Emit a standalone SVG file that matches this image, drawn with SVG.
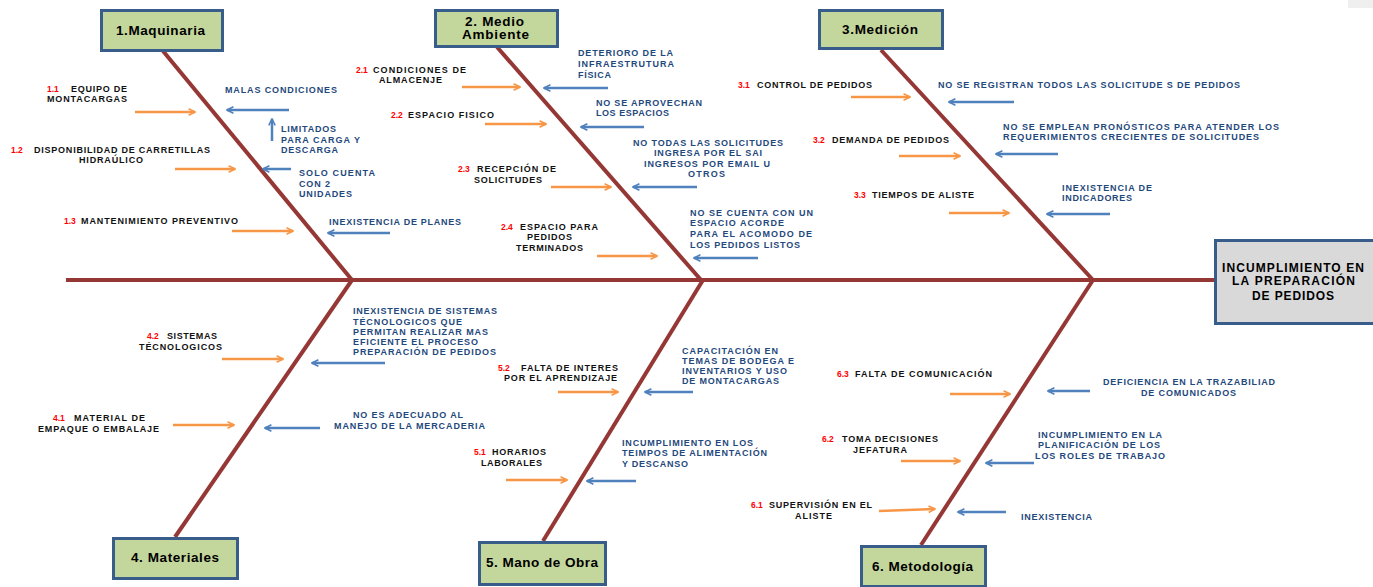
<svg xmlns="http://www.w3.org/2000/svg" width="1373" height="587" viewBox="0 0 1373 587">
<defs>
<style>
text{font-family:"Liberation Sans",Arial,sans-serif;font-size:9px;fill:#111;font-weight:bold}
.num{fill:#ff0000;font-size:8.5px}
.blu{fill:#1f497d}
.box{fill:#c3d69b;stroke:#385d8a;stroke-width:3}
.head{fill:#d9d9d9;stroke:#385d8a;stroke-width:3}
.ttl{font-size:13.5px;fill:#000}
.htl{font-size:12px;fill:#000}
.bone{stroke:#953735;stroke-width:4;fill:none}
.oa{stroke:#f79646;stroke-width:2.5;fill:none;marker-end:url(#ao)}
.ba{stroke:#4f81bd;stroke-width:2.5;fill:none;marker-end:url(#ab)}
</style>
<marker id="ao" viewBox="0 0 10 10" refX="9" refY="5" markerWidth="8" markerHeight="9" markerUnits="userSpaceOnUse" orient="auto"><path d="M1,1 L9,5 L1,9" fill="none" stroke="#f79646" stroke-width="2"/></marker>
<marker id="ab" viewBox="0 0 10 10" refX="9" refY="5" markerWidth="8" markerHeight="9" markerUnits="userSpaceOnUse" orient="auto"><path d="M1,1 L9,5 L1,9" fill="none" stroke="#4f81bd" stroke-width="2"/></marker>
</defs>
<rect x="0" y="0" width="1373" height="587" fill="#ffffff"/>
<rect x="1348" y="0" width="25" height="8" fill="#efefef"/>

<g id="connectors">
<path class="bone" d="M66,280 L1214,280"/>
<path class="bone" d="M163,51 L352,280"/>
<path class="bone" d="M497,47 L701,280"/>
<path class="bone" d="M881,50 L1093,280"/>
<path class="bone" d="M352,280 L175,537"/>
<path class="bone" d="M703,280 L543,541"/>
<path class="bone" d="M1093,280 L921,545"/>
<g id="cause-arrows">
<path class="oa" d="M135,112 L195,112"/>
<path class="oa" d="M175,169 L235,169"/>
<path class="oa" d="M232,231 L293,231"/>
<path class="oa" d="M222,359 L283,359"/>
<path class="oa" d="M173,425 L234,425"/>
<path class="oa" d="M462,87 L520,87"/>
<path class="oa" d="M485,124 L546,124"/>
<path class="oa" d="M551,187 L611,187"/>
<path class="oa" d="M597,256 L657,256"/>
<path class="oa" d="M851,97 L910,97"/>
<path class="oa" d="M899,156 L960,156"/>
<path class="oa" d="M949,213 L1009,213"/>
<path class="oa" d="M558,392 L618,392"/>
<path class="oa" d="M506,480 L567,480"/>
<path class="oa" d="M950,394 L1010,394"/>
<path class="oa" d="M901,461 L960,461"/>
<path class="oa" d="M879,511 L935,509"/>
<path class="ba" d="M289,110 L227,110"/>
<path class="ba" d="M291,169 L263,169"/>
<path class="ba" d="M390,233 L328,233"/>
<path class="ba" d="M272,141 L272,119"/>
<path class="ba" d="M385,363 L312,363"/>
<path class="ba" d="M320,428 L265,428"/>
<path class="ba" d="M608,88 L544,88"/>
<path class="ba" d="M644,127 L581,127"/>
<path class="ba" d="M697,187 L633,187"/>
<path class="ba" d="M758,258 L694,258"/>
<path class="ba" d="M1014,102 L949,102"/>
<path class="ba" d="M1058,154 L996,154"/>
<path class="ba" d="M1110,214 L1047,214"/>
<path class="ba" d="M693,392 L645,392"/>
<path class="ba" d="M636,481 L587,481"/>
<path class="ba" d="M1090,391 L1048,391"/>
<path class="ba" d="M1034,463 L986,463"/>
<path class="ba" d="M1006,512 L958,512"/>
</g>
</g>

<g id="effect">
<rect class="head" x="1215.5" y="240.5" width="160" height="83"/>
<text class="htl" x="1222" y="272" textLength="142" lengthAdjust="spacing">INCUMPLIMIENTO EN</text>
<text class="htl" x="1232" y="285" textLength="123" lengthAdjust="spacing">LA PREPARACIÓN</text>
<text class="htl" x="1252" y="300" textLength="82" lengthAdjust="spacing">DE PEDIDOS</text>
</g>

<g id="cat1">
<rect class="box" x="101.5" y="10.5" width="121" height="40"/>
<text class="ttl" x="116" y="35" textLength="89" lengthAdjust="spacing">1.Maquinaria</text>
<text class="num" x="47" y="92">1.1</text>
<text x="71" y="92" textLength="56" lengthAdjust="spacing">EQUIPO DE</text>
<text x="47" y="102" textLength="80" lengthAdjust="spacing">MONTACARGAS</text>
<text class="num" x="11" y="153">1.2</text>
<text x="34" y="153" textLength="176" lengthAdjust="spacing">DISPONIBILIDAD DE CARRETILLAS</text>
<text x="79" y="163" textLength="64" lengthAdjust="spacing">HIDRAÚLICO</text>
<text class="num" x="64" y="224">1.3</text>
<text x="81" y="224" textLength="157" lengthAdjust="spacing">MANTENIMIENTO PREVENTIVO</text>
<text class="blu" x="225" y="93" textLength="112" lengthAdjust="spacing">MALAS CONDICIONES</text>
<text class="blu" x="281" y="132" textLength="55" lengthAdjust="spacing">LIMITADOS</text>
<text class="blu" x="281" y="143" textLength="79" lengthAdjust="spacing">PARA CARGA Y</text>
<text class="blu" x="281" y="153" textLength="57" lengthAdjust="spacing">DESCARGA</text>
<text class="blu" x="299" y="176" textLength="76" lengthAdjust="spacing">SOLO CUENTA</text>
<text class="blu" x="299" y="187" textLength="31" lengthAdjust="spacing">CON 2</text>
<text class="blu" x="299" y="197" textLength="53" lengthAdjust="spacing">UNIDADES</text>
<text class="blu" x="329" y="225" textLength="132" lengthAdjust="spacing">INEXISTENCIA DE PLANES</text>
</g>

<g id="cat2">
<rect class="box" x="435.5" y="10.5" width="122" height="36"/>
<text class="ttl" x="465" y="26" textLength="59" lengthAdjust="spacing">2. Medio</text>
<text class="ttl" x="462" y="39" textLength="67" lengthAdjust="spacing">Ambiente</text>
<text class="num" x="356" y="73">2.1</text>
<text x="373" y="73" textLength="93" lengthAdjust="spacing">CONDICIONES DE</text>
<text x="379" y="83" textLength="63" lengthAdjust="spacing">ALMACENJE</text>
<text class="num" x="391" y="118">2.2</text>
<text x="408" y="118" textLength="86" lengthAdjust="spacing">ESPACIO FISICO</text>
<text class="blu" x="578" y="56" textLength="95" lengthAdjust="spacing">DETERIORO DE LA</text>
<text class="blu" x="578" y="67" textLength="96" lengthAdjust="spacing">INFRAESTRUTURA</text>
<text class="blu" x="578" y="78" textLength="33" lengthAdjust="spacing">FÍSICA</text>
<text class="blu" x="596" y="106" textLength="106" lengthAdjust="spacing">NO SE APROVECHAN</text>
<text class="blu" x="596" y="116" textLength="73" lengthAdjust="spacing">LOS ESPACIOS</text>
<text class="blu" x="633" y="146" textLength="150" lengthAdjust="spacing">NO TODAS LAS SOLICITUDES</text>
<text class="blu" x="654" y="156" textLength="108" lengthAdjust="spacing">INGRESA POR EL SAI</text>
<text class="blu" x="644" y="167" textLength="126" lengthAdjust="spacing">INGRESOS POR EMAIL U</text>
<text class="blu" x="688" y="177" textLength="37" lengthAdjust="spacing">OTROS</text>
<text class="num" x="458" y="172">2.3</text>
<text x="477" y="172" textLength="79" lengthAdjust="spacing">RECEPCIÓN DE</text>
<text x="474" y="183" textLength="68" lengthAdjust="spacing">SOLICITUDES</text>
<text class="num" x="501" y="230">2.4</text>
<text x="520" y="230" textLength="78" lengthAdjust="spacing">ESPACIO PARA</text>
<text x="527" y="240" textLength="45" lengthAdjust="spacing">PEDIDOS</text>
<text x="516" y="251" textLength="67" lengthAdjust="spacing">TERMINADOS</text>
<text class="blu" x="690" y="216" textLength="123" lengthAdjust="spacing">NO SE CUENTA CON UN</text>
<text class="blu" x="690" y="226" textLength="94" lengthAdjust="spacing">ESPACIO ACORDE</text>
<text class="blu" x="690" y="237" textLength="122" lengthAdjust="spacing">PARA EL ACOMODO DE</text>
<text class="blu" x="690" y="248" textLength="110" lengthAdjust="spacing">LOS PEDIDOS LISTOS</text>
</g>

<g id="cat3">
<rect class="box" x="819.5" y="10.5" width="123" height="38"/>
<text class="ttl" x="842" y="34" textLength="76" lengthAdjust="spacing">3.Medición</text>
<text class="num" x="738" y="88">3.1</text>
<text x="757" y="88" textLength="115" lengthAdjust="spacing">CONTROL DE PEDIDOS</text>
<text class="blu" x="938" y="88" textLength="302" lengthAdjust="spacing">NO SE REGISTRAN TODOS LAS SOLICITUDE S DE PEDIDOS</text>
<text class="num" x="813" y="143">3.2</text>
<text x="832" y="143" textLength="117" lengthAdjust="spacing">DEMANDA DE PEDIDOS</text>
<text class="blu" x="1003" y="130" textLength="276" lengthAdjust="spacing">NO SE EMPLEAN PRONÓSTICOS PARA ATENDER LOS</text>
<text class="blu" x="1003" y="140" textLength="256" lengthAdjust="spacing">REQUERIMIENTOS CRECIENTES DE SOLICITUDES</text>
<text class="num" x="854" y="198">3.3</text>
<text x="872" y="198" textLength="102" lengthAdjust="spacing">TIEMPOS DE ALISTE</text>
<text class="blu" x="1062" y="191" textLength="90" lengthAdjust="spacing">INEXISTENCIA DE</text>
<text class="blu" x="1062" y="201" textLength="70" lengthAdjust="spacing">INDICADORES</text>
</g>

<g id="cat4">
<rect class="box" x="113.5" y="538.5" width="124" height="40"/>
<text class="ttl" x="131" y="562" textLength="88" lengthAdjust="spacing">4. Materiales</text>
<text class="num" x="147" y="339">4.2</text>
<text x="167" y="339" textLength="50" lengthAdjust="spacing">SISTEMAS</text>
<text x="139" y="350" textLength="83" lengthAdjust="spacing">TÉCNOLOGICOS</text>
<text class="blu" x="353" y="314" textLength="144" lengthAdjust="spacing">INEXISTENCIA DE SISTEMAS</text>
<text class="blu" x="353" y="325" textLength="109" lengthAdjust="spacing">TÉCNOLOGICOS QUE</text>
<text class="blu" x="353" y="335" textLength="135" lengthAdjust="spacing">PERMITAN REALIZAR MAS</text>
<text class="blu" x="353" y="345" textLength="125" lengthAdjust="spacing">EFICIENTE EL PROCESO</text>
<text class="blu" x="353" y="355" textLength="143" lengthAdjust="spacing">PREPARACIÓN DE PEDIDOS</text>
<text class="num" x="53" y="421">4.1</text>
<text x="74" y="421" textLength="71" lengthAdjust="spacing">MATERIAL DE</text>
<text x="38" y="432" textLength="121" lengthAdjust="spacing">EMPAQUE O EMBALAJE</text>
<text class="blu" x="353" y="418" textLength="110" lengthAdjust="spacing">NO ES ADECUADO AL</text>
<text class="blu" x="334" y="429" textLength="151" lengthAdjust="spacing">MANEJO DE LA MERCADERIA</text>
</g>

<g id="cat5">
<rect class="box" x="479.5" y="542.5" width="126" height="42"/>
<text class="ttl" x="486" y="567" textLength="112" lengthAdjust="spacing">5. Mano de Obra</text>
<text class="num" x="498" y="371">5.2</text>
<text x="521" y="371" textLength="97" lengthAdjust="spacing">FALTA DE INTERES</text>
<text x="504" y="381" textLength="113" lengthAdjust="spacing">POR EL APRENDIZAJE</text>
<text class="blu" x="682" y="354" textLength="96" lengthAdjust="spacing">CAPACITACIÓN EN</text>
<text class="blu" x="682" y="364" textLength="112" lengthAdjust="spacing">TEMAS DE BODEGA E</text>
<text class="blu" x="682" y="374" textLength="105" lengthAdjust="spacing">INVENTARIOS Y USO</text>
<text class="blu" x="682" y="384" textLength="97" lengthAdjust="spacing">DE MONTACARGAS</text>
<text class="num" x="474" y="455">5.1</text>
<text x="492" y="455" textLength="54" lengthAdjust="spacing">HORARIOS</text>
<text x="481" y="466" textLength="61" lengthAdjust="spacing">LABORALES</text>
<text class="blu" x="622" y="446" textLength="131" lengthAdjust="spacing">INCUMPLIMIENTO EN LOS</text>
<text class="blu" x="622" y="456" textLength="145" lengthAdjust="spacing">TEIMPOS DE ALIMENTACIÓN</text>
<text class="blu" x="622" y="467" textLength="66" lengthAdjust="spacing">Y DESCANSO</text>
</g>

<g id="cat6">
<rect class="box" x="861.5" y="546.5" width="124" height="40"/>
<text class="ttl" x="872" y="571" textLength="101" lengthAdjust="spacing">6. Metodología</text>
<text class="num" x="837" y="377">6.3</text>
<text x="855" y="377" textLength="137" lengthAdjust="spacing">FALTA DE COMUNICACIÓN</text>
<text class="blu" x="1103" y="385" textLength="172" lengthAdjust="spacing">DEFICIENCIA EN LA TRAZABILIAD</text>
<text class="blu" x="1141" y="396" textLength="95" lengthAdjust="spacing">DE COMUNICADOS</text>
<text class="num" x="822" y="442">6.2</text>
<text x="842" y="442" textLength="96" lengthAdjust="spacing">TOMA DECISIONES</text>
<text x="853" y="453" textLength="54" lengthAdjust="spacing">JEFATURA</text>
<text class="blu" x="1038" y="438" textLength="124" lengthAdjust="spacing">INCUMPLIMIENTO EN LA</text>
<text class="blu" x="1038" y="448" textLength="122" lengthAdjust="spacing">PLANIFICACIÓN DE LOS</text>
<text class="blu" x="1035" y="459" textLength="130" lengthAdjust="spacing">LOS ROLES DE TRABAJO</text>
<text class="num" x="751" y="508">6.1</text>
<text x="769" y="508" textLength="103" lengthAdjust="spacing">SUPERVISIÓN EN EL</text>
<text x="795" y="519" textLength="37" lengthAdjust="spacing">ALISTE</text>
<text class="blu" x="1021" y="520" textLength="71" lengthAdjust="spacing">INEXISTENCIA</text>
</g>
</svg>
